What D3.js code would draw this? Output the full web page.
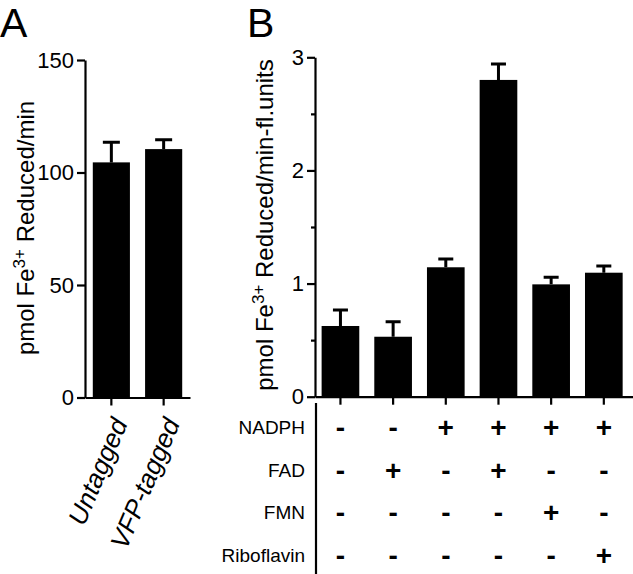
<!DOCTYPE html>
<html>
<head>
<meta charset="utf-8">
<script src="https://cdn.jsdelivr.net/npm/d3@7"></script>
<style>
  body { margin: 0; background: #fff; }
  svg { display: block; font-family: "Liberation Sans", Arial, sans-serif; }
  .axis path, .axis line { stroke: #000; stroke-width: 2.2px; }
  .axis text { font-size: 22px; fill: #000; }
</style>
</head>
<body>
<svg id="chart" width="633" height="574"></svg>
<script>
// panel A
var groupsA = ["Untagged", "VFP-tagged"];
var meanA = [104.5, 110.4];
var semA = [8.9, 4.2];
var ticksA = [0, 50, 100, 150];

// panel B
var groupsB = ["c1", "c2", "c3", "c4", "c5", "c6"];
var meanB = [0.625, 0.53, 1.144, 2.80, 0.993, 1.096];
var semB = [0.141, 0.133, 0.073, 0.14, 0.062, 0.059];
var ticksB = [0, 1, 2, 3];
var minorB = [0.5, 1.5, 2.5];

// condition table under panel B
var reagents = ["NADPH", "FAD", "FMN", "Riboflavin"];
var nadph = ["-", "-", "+", "+", "+", "+"];
var fad = ["-", "+", "-", "+", "-", "-"];
var fmn = ["-", "-", "-", "-", "+", "-"];
var ribo = ["-", "-", "-", "-", "-", "+"];
var table = [nadph, fad, fmn, ribo];

var svg = d3.select("#chart");

function yLabel(g, x, y, rest, size) {
    var t = g.append("text")
        .attr("transform", "translate(" + x + "," + y + ") rotate(-90)")
        .attr("text-anchor", "middle")
        .style("font-size", size + "px");
    t.append("tspan").text("pmol Fe");
    t.append("tspan").text("3+").attr("dy", "-0.55em").style("font-size", Math.round(size * 0.7) + "px");
    t.append("tspan").text(" " + rest).attr("dy", "0.4em");
}

function errBars(g, data, x, y, capW) {
    g.selectAll(".err")
        .data(data)
        .enter().append("path")
        .attr("class", "err")
        .attr("fill", "none")
        .attr("stroke", "#000")
        .attr("stroke-width", 3)
        .attr("d", function(d) {
            var cx = x(d.k) + x.bandwidth() / 2,
                y0 = y(d.m), y1 = y(d.m + d.s);
            return "M" + cx + "," + y0 + "V" + y1 + "M" + (cx - capW / 2) + "," + y1 + "H" + (cx + capW / 2);
        });
}

function bars(g, data, x, y) {
    g.selectAll(".bar")
        .data(data)
        .enter().append("rect")
        .attr("class", "bar")
        .attr("fill", "#000")
        .attr("x", function(d) { return x(d.k); })
        .attr("y", function(d) { return y(d.m); })
        .attr("width", x.bandwidth())
        .attr("height", function(d) { return y(0) - y(d.m); });
}

// ---- A ----
var gA = svg.append("g");
var xA = d3.scaleBand().domain(groupsA).range([85, 190]).paddingInner(0.29).paddingOuter(0.149);
var yA = d3.scaleLinear().domain([0, 150]).range([397.5, 60]);
var dataA = groupsA.map(function(k, i) { return { k: k, m: meanA[i], s: semA[i] }; });

errBars(gA, dataA, xA, yA, 17);
bars(gA, dataA, xA, yA);

gA.append("g").attr("class", "axis")
    .attr("transform", "translate(85,0)")
    .call(d3.axisLeft(yA).tickValues(ticksA).tickSize(8).tickSizeOuter(0).tickPadding(3));

gA.append("g").attr("class", "axis")
    .attr("transform", "translate(0,397.5)")
    .call(d3.axisBottom(xA).tickSize(8).tickSizeOuter(0).tickFormat(""));

gA.selectAll(".xlab")
    .data(groupsA)
    .enter().append("text")
    .attr("class", "xlab")
    .attr("transform", function(d) { return "translate(" + (xA(d) + xA.bandwidth() / 2) + ",416) rotate(-67)"; })
    .attr("text-anchor", "end")
    .attr("dy", "0.7em")
    .style("font-size", "26px")
    .style("font-style", "italic")
    .text(function(d) { return d; });

yLabel(gA, 34, 228, "Reduced/min", 24);

svg.append("text").attr("x", 0).attr("y", 37).style("font-size", "41px").text("A");

// ---- B ----
var gB = svg.append("g");
var xB = d3.scaleBand().domain(groupsB).range([315, 633]).paddingInner(0.285).paddingOuter(0.161).align(0.39);
var yB = d3.scaleLinear().domain([0, 3]).range([396.7, 57.3]);
var dataB = groupsB.map(function(k, i) { return { k: k, m: meanB[i], s: semB[i] }; });

errBars(gB, dataB, xB, yB, 15);
bars(gB, dataB, xB, yB);

gB.append("g").attr("class", "axis")
    .attr("transform", "translate(315,0)")
    .call(d3.axisLeft(yB).tickValues(ticksB).tickSize(8).tickSizeOuter(0).tickPadding(3).tickFormat(d3.format("d")));

gB.append("g").attr("class", "axis")
    .attr("transform", "translate(315,0)")
    .call(d3.axisLeft(yB).tickValues(minorB).tickSize(4).tickSizeOuter(0).tickFormat(""))
    .select(".domain").remove();

gB.append("g").attr("class", "axis")
    .attr("transform", "translate(0,396.7)")
    .call(d3.axisBottom(xB).tickSize(8).tickSizeOuter(0).tickFormat(""));

yLabel(gB, 273, 225, "Reduced/min-fl.units", 24);

svg.append("text").attr("x", 247).attr("y", 37).style("font-size", "41px").text("B");

// ---- condition table ----
var rowY = d3.scalePoint().domain(reagents).range([427, 555]);

svg.append("line")
    .attr("x1", 316).attr("x2", 316)
    .attr("y1", 403).attr("y2", 574)
    .attr("stroke", "#000").attr("stroke-width", 2.2);

svg.selectAll(".rowlab")
    .data(reagents)
    .enter().append("text")
    .attr("class", "rowlab")
    .attr("x", 305)
    .attr("y", function(d) { return rowY(d); })
    .attr("dy", "0.36em")
    .attr("text-anchor", "end")
    .style("font-size", "19px")
    .text(function(d) { return d; });

table.forEach(function(row, r) {
    svg.selectAll(".sign" + r)
        .data(row)
        .enter().append("text")
        .attr("class", "sign" + r)
        .attr("x", function(d, i) { return xB(groupsB[i]) + xB.bandwidth() / 2; })
        .attr("y", rowY(reagents[r]))
        .attr("dy", "0.36em")
        .attr("text-anchor", "middle")
        .style("font-size", "28px")
        .style("font-weight", "bold")
        .text(function(d) { return d; });
});
</script>
</body>
</html>
